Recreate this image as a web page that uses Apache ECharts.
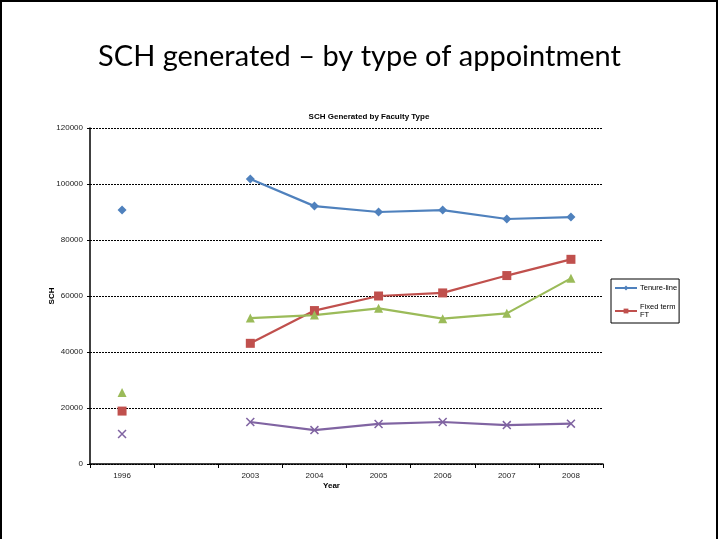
<!DOCTYPE html>
<html><head><meta charset="utf-8">
<script src="https://cdn.jsdelivr.net/npm/echarts@6/dist/echarts.min.js"></script>
<style>html,body{margin:0;padding:0;background:#fff}#c{width:719px;height:539px}</style>
</head><body><div id="c"></div>
<script>
const categories = ['1996', '', '2003', '2004', '2005', '2006', '2007', '2008'];
const tenureLine = [90700, null, 101800, 92100, 90000, 90700, 87500, 88200];
const fixedTerm = [18900, null, 43100, 54800, 60000, 61100, 67300, 73100];
const series3 = [25500, null, 52100, 53200, 55600, 51900, 53800, 66300];
const series4 = [10700, null, 15000, 12100, 14300, 15000, 13900, 14400];
const yTicks = [0, 20000, 40000, 60000, 80000, 100000, 120000];

const chart = echarts.init(document.getElementById('c'));
const crossPath = 'path://M0,1.2 L1.2,0 L10,8.8 L8.8,10 Z M8.8,0 L10,1.2 L1.2,10 L0,8.8 Z';
function s(name, data, color, symbol, size) {
  return {name, type: 'line', data, symbol, symbolSize: size, connectNulls: false,
    lineStyle: {color, width: 2.2}, itemStyle: {color}, showAllSymbol: true, animation: false};
}
chart.setOption({
  animation: false,
  textStyle: {fontFamily: 'Liberation Sans'},
  graphic: [
    {type: 'rect', shape: {x: 1, y: 1, width: 716, height: 560}, style: {fill: 'none', stroke: '#000', lineWidth: 2}},
    {type: 'text', left: 'center', top: 42, style: {text: 'SCH generated \u2013 by type of appointment', font: '29px Lato', fill: '#000'}}
  ],
  title: {text: 'SCH Generated by Faculty Type', left: 364, top: 108, textAlign: 'center',
    textStyle: {fontSize: 8, fontWeight: 'bold', color: '#000', fontFamily: 'Liberation Sans'}},
  grid: {left: 90, right: 116, top: 128, bottom: 75},
  legend: {data: ['Tenure-line', 'Fixed term\nFT'], orient: 'vertical', left: 611, top: 279,
    borderColor: '#000', borderWidth: 1, padding: [5, 2, 4, 3], itemGap: 11, itemWidth: 22, itemHeight: 6,
    textStyle: {fontSize: 7.5, color: '#000', fontFamily: 'Liberation Sans', padding: [0, 0, 0, -2]}},
  xAxis: {type: 'category', data: categories, boundaryGap: true, name: 'Year', nameLocation: 'middle', nameGap: 18,
    nameMoveOverlap: false,
    nameTextStyle: {fontSize: 8, fontWeight: 'bold', color: '#000', padding: [0, 30, 0, 0]},
    axisLine: {lineStyle: {color: '#000', width: 1.5}},
    axisTick: {show: true, length: 4, lineStyle: {color: '#000'}},
    axisLabel: {fontSize: 8, color: '#222', margin: 8}},
  yAxis: {type: 'value', min: 0, max: 120000, interval: 20000, name: 'SCH', nameLocation: 'middle', nameGap: 34,
    nameMoveOverlap: false,
    nameTextStyle: {fontSize: 8, fontWeight: 'bold', color: '#000'},
    axisLine: {show: true, lineStyle: {color: '#000', width: 1.5}},
    axisTick: {show: true, length: 3, lineStyle: {color: '#000'}},
    axisLabel: {fontSize: 8, color: '#222', margin: 7, formatter: v => yTicks.includes(v) ? String(v) : ''},
    splitLine: {show: true, lineStyle: {color: '#000', type: [2, 1], width: 1}}},
  series: [
    s('Tenure-line', tenureLine, '#4F81BD', 'diamond', 9),
    s('Fixed term\nFT', fixedTerm, '#C0504D', 'rect', 9),
    s('Series3', series3, '#9BBB59', 'triangle', 9),
    s('Series4', series4, '#8064A2', crossPath, 9)
  ]
});
</script></body></html>
